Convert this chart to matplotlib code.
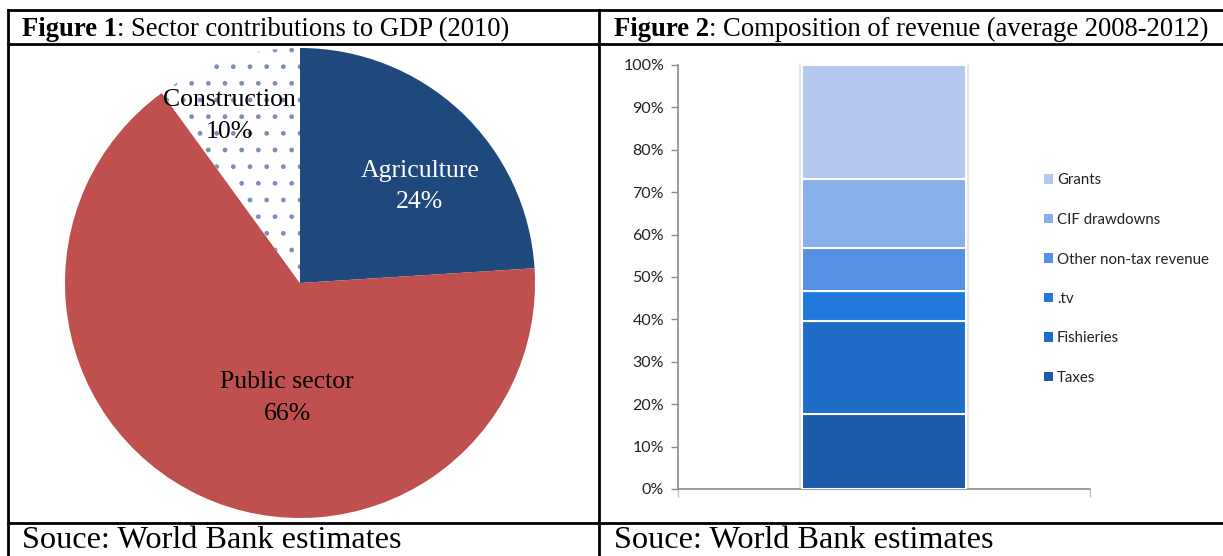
import matplotlib
matplotlib.use("Agg")
import matplotlib.pyplot as plt
from matplotlib.ticker import PercentFormatter
from matplotlib.patches import Patch
import numpy as np

# Figure 1: sector shares of GDP, 2010
sectors = ["Agriculture", "Public sector", "Construction"]
sector_share = [24, 66, 10]
sector_colors = ["#1F497D", "#C0504D", "white"]

# Figure 2: revenue composition, average 2008-2012 (% of total)
revenue_items = ["Taxes", "Fishieries", ".tv", "Other non-tax revenue", "CIF drawdowns", "Grants"]
revenue_share = [17.7, 21.9, 7.1, 10.1, 16.3, 26.9]
revenue_colors = ["#1C5BA8", "#1F6CC6", "#2179DE", "#5490E4", "#8AB0EB", "#B4C8F0"]

W, H = 1223, 556
fig = plt.figure(figsize=(W / 100, H / 100), dpi=100)
fig.patch.set_facecolor("white")

# background axes in pixel units for the table frame and captions
bg = fig.add_axes([0, 0, 1, 1], zorder=0)
bg.set_xlim(0, W)
bg.set_ylim(H, 0)
bg.axis("off")
frame = dict(color="black", lw=2)
bg.plot([8, W], [10, 10], **frame)
bg.plot([8, W], [44, 44], **frame)
bg.plot([8, W], [523, 523], **frame)
bg.plot([8, 8], [10, H], **frame)
bg.plot([599, 599], [10, H], **frame)

serif = "Liberation Serif"
renderer = fig.canvas.get_renderer()


def caption(x, y, bold, rest, size):
    t = bg.text(x, y, bold, fontsize=size, family=serif, weight="bold", va="baseline")
    bb = t.get_window_extent(renderer)
    x2 = bg.transData.inverted().transform((bb.x1, 0))[0]
    bg.text(x2, y, rest, fontsize=size, family=serif, va="baseline")


caption(22, 36, "Figure 1", ": Sector contributions to GDP (2010)", 19.2)
caption(614, 36, "Figure 2", ": Composition of revenue (average 2008-2012)", 19.2)
bg.text(22, 548, "Souce: World Bank estimates", fontsize=23.2, family=serif, va="baseline")
bg.text(614, 548, "Souce: World Bank estimates", fontsize=23.2, family=serif, va="baseline")

# ---- pie ----
ax1 = fig.add_axes([65 / W, (H - 518) / H, 470 / W, 470 / H], zorder=1)
wedges, _ = ax1.pie(sector_share, colors=sector_colors, startangle=90, counterclock=False,
                    radius=1, wedgeprops=dict(linewidth=0))
wedges[2].set_hatch(".")
wedges[2].set_edgecolor("#7890B8")
wedges[2].set_linewidth(0)
ax1.set_xlim(-1, 1)
ax1.set_ylim(-1, 1)
ax1.set_aspect("auto")
ax1.axis("off")

label_pos = [(0.51, 0.41), (-0.055, -0.49), (-0.30, 0.71)]
label_col = ["white", "black", "black"]
for name, share, (lx, ly), c in zip(sectors, sector_share, label_pos, label_col):
    ax1.text(lx, ly, f"{name}\n{share}%", ha="center", va="center", fontsize=18.5,
             family=serif, color=c, linespacing=1.55, zorder=5)

# ---- stacked bar ----
ax2 = fig.add_axes([678 / W, (H - 489) / H, 412 / W, 424 / H], zorder=1)
bottom = 0
for name, val, col in zip(revenue_items, revenue_share, revenue_colors):
    ax2.bar(0, val, bottom=bottom, width=0.8, color=col, edgecolor="white", linewidth=1.5,
            label=name, zorder=3)
    bottom += val
# soft shadow along the bar sides
ax2.bar(0, sum(revenue_share), width=0.83, color="#E6E6E6", linewidth=0, zorder=2)

ax2.set_xlim(-1, 1)
ax2.set_ylim(0, 100)
ax2.set_yticks(np.arange(0, 101, 10))
ax2.yaxis.set_major_formatter(PercentFormatter(decimals=0))
ax2.set_xticks([-1, 1])
ax2.set_xticklabels([])
for s in ["top", "right"]:
    ax2.spines[s].set_visible(False)
for s in ["left", "bottom"]:
    ax2.spines[s].set_color("#8C8C8C")
    ax2.spines[s].set_linewidth(1.2)
ax2.tick_params(axis="y", direction="out", length=5, width=1, color="#8C8C8C",
                labelsize=11.5, labelcolor="#222222", pad=5)
ax2.tick_params(axis="x", direction="out", length=6, width=1, color="#BFBFBF")
for lab in ax2.get_yticklabels():
    lab.set_family("Lato")

handles = [Patch(facecolor=c, edgecolor="none") for c in revenue_colors][::-1]
leg = fig.legend(handles, revenue_items[::-1], loc="upper left",
                 bbox_to_anchor=(1030 / W, (H - 160) / H), frameon=False,
                 prop=dict(family="Lato", size=10.8), handlelength=0.6, handleheight=0.6,
                 handletextpad=0.3, labelspacing=1.7)
for t in leg.get_texts():
    t.set_color("#222222")

fig.savefig("out.png", dpi=100, facecolor="white")
